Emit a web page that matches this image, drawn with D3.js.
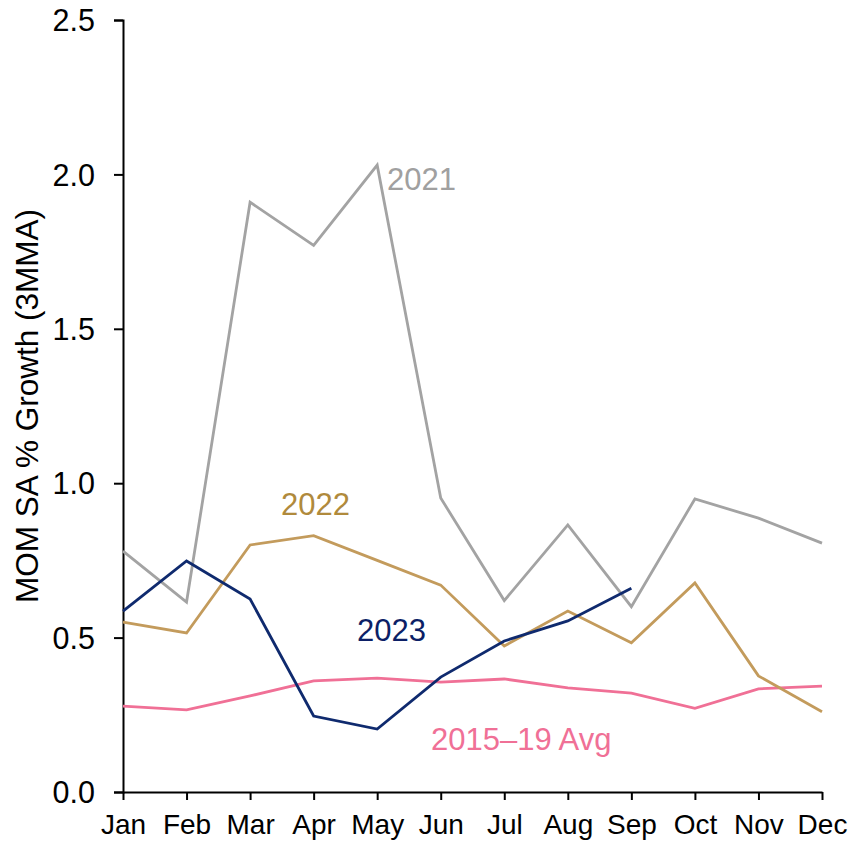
<!DOCTYPE html>
<html>
<head>
<meta charset="utf-8">
<script src="https://cdn.jsdelivr.net/npm/d3@7"></script>
<style>
  html, body { margin: 0; padding: 0; background: #fff; }
  svg { display: block; font-family: "Liberation Sans", Arial, sans-serif; }
</style>
</head>
<body>
<svg id="chart" width="853" height="842"></svg>
<script>
// Month-over-month seasonally adjusted growth, 3-month moving average (%)
const months = ["Jan", "Feb", "Mar", "Apr", "May", "Jun", "Jul", "Aug", "Sep", "Oct", "Nov", "Dec"];
const yTicks = [0.0, 0.5, 1.0, 1.5, 2.0, 2.5];

const values2021 = [0.78, 0.615, 1.91, 1.77, 2.03, 0.952, 0.62, 0.865, 0.60, 0.949, 0.887, 0.806];
const values2022 = [0.55, 0.515, 0.80, 0.83, 0.75, 0.67, 0.473, 0.586, 0.483, 0.677, 0.376, 0.26];
const values2023 = [0.586, 0.748, 0.625, 0.246, 0.204, 0.372, 0.489, 0.554, 0.66];
const valuesAvg = [0.278, 0.266, 0.311, 0.36, 0.369, 0.356, 0.366, 0.337, 0.32, 0.271, 0.334, 0.343];

const series = [
  { name: "2015–19 Avg", values: valuesAvg, color: "#F07096", labelColor: "#F07096", labelAt: [431, 750] },
  { name: "2021", values: values2021, color: "#A3A3A3", labelColor: "#A0A0A0", labelAt: [387, 190] },
  { name: "2022", values: values2022, color: "#C39B5C", labelColor: "#B08A3C", labelAt: [281, 515] },
  { name: "2023", values: values2023, color: "#0F2A6E", labelColor: "#0C1F66", labelAt: [357, 641] }
];

const svg = d3.select("#chart");
const margin = { top: 20, right: 31, bottom: 50, left: 123 };
const width = 853 - margin.left - margin.right;
const height = 842 - margin.top - margin.bottom;

const x = d3.scalePoint().domain(months).range([0, width]);
const y = d3.scaleLinear().domain([0, 2.5]).range([height, 0]);

const g = svg.append("g").attr("transform", `translate(${margin.left},${margin.top})`);

// Y axis
const yAxis = g.append("g")
  .call(d3.axisLeft(y).tickValues(yTicks).tickFormat(d3.format(".1f")).tickSize(9).tickPadding(19));
yAxis.select(".domain").attr("stroke", "#000").attr("stroke-width", 2);
yAxis.selectAll(".tick line").attr("stroke", "#000").attr("stroke-width", 2);
yAxis.selectAll(".tick text").attr("font-size", 30.5).attr("fill", "#000")
  .attr("dy", "0.35em");

// X axis
const xAxis = g.append("g")
  .attr("transform", `translate(0,${height})`)
  .call(d3.axisBottom(x).tickSize(8).tickPadding(14).tickSizeOuter(0));
xAxis.select(".domain").attr("stroke", "#000").attr("stroke-width", 2);
xAxis.selectAll(".tick line").attr("stroke", "#000").attr("stroke-width", 2);
xAxis.selectAll(".tick text").attr("font-size", 28).attr("fill", "#000");

// Y axis title
svg.append("text")
  .attr("transform", "translate(38,406) rotate(-90)")
  .attr("text-anchor", "middle")
  .attr("font-size", 31.5)
  .attr("fill", "#000")
  .text("MOM SA % Growth (3MMA)");

// Lines
const line = d3.line()
  .x((d, i) => x(months[i]))
  .y(d => y(d));

g.selectAll("path.series")
  .data(series)
  .join("path")
  .attr("class", "series")
  .attr("fill", "none")
  .attr("stroke", d => d.color)
  .attr("stroke-width", 2.8)
  .attr("stroke-linejoin", "miter")
  .attr("d", d => line(d.values));

// Series labels
svg.selectAll("text.label")
  .data(series)
  .join("text")
  .attr("class", "label")
  .attr("x", d => d.labelAt[0])
  .attr("y", d => d.labelAt[1])
  .attr("font-size", 31)
  .attr("fill", d => d.labelColor)
  .text(d => d.name);
</script>
</body>
</html>
